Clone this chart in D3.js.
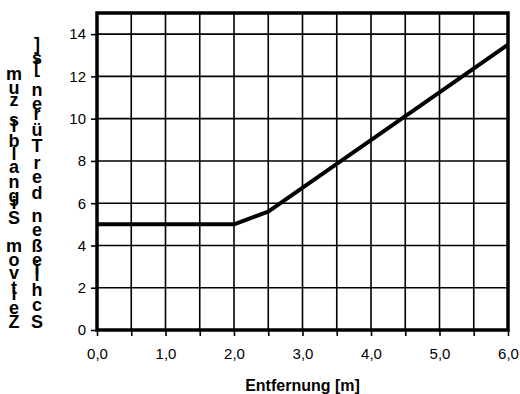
<!DOCTYPE html>
<html>
<head>
<meta charset="utf-8">
<script src="https://cdn.jsdelivr.net/npm/d3@7"></script>
<style>
  body { margin: 0; background: #fff; }
  svg { display: block; font-family: Arial, "Liberation Sans", sans-serif; }
</style>
</head>
<body>
<svg id="chart" width="520" height="394"></svg>
<script>
// data
var distance = [0.0, 2.0, 2.5, 6.0];
var time = [5.0, 5.0, 5.6, 13.5];
var xTicks = [0, 1, 2, 3, 4, 5, 6];
var yTicks = [0, 2, 4, 6, 8, 10, 12, 14];
var xGrid = d3.range(0.5, 6, 0.5);
var yGrid = [2, 4, 6, 8, 10, 12, 14];
var xTitle = "Entfernung [m]";
var yTitleLines = ["Zeit vom Signal bis zum", "Schließen der Türen [s]"];

var svg = d3.select("#chart");
var pLeft = 97, pRight = 508, pTop = 13, pBottom = 330;

var x = d3.scaleLinear().domain([0, 6]).range([pLeft, pRight]);
var y = d3.scaleLinear().domain([0, 15]).range([pBottom, pTop]);

// grid
svg.append("g").selectAll("line").data(xGrid).enter().append("line")
  .attr("x1", function(d) { return x(d); }).attr("x2", function(d) { return x(d); })
  .attr("y1", pTop).attr("y2", pBottom)
  .attr("stroke", "#000").attr("stroke-width", 1.6);
svg.append("g").selectAll("line").data(yGrid).enter().append("line")
  .attr("y1", function(d) { return y(d); }).attr("y2", function(d) { return y(d); })
  .attr("x1", pLeft).attr("x2", pRight)
  .attr("stroke", "#000").attr("stroke-width", 1.6);

// axes
var xAxis = d3.axisBottom(x).tickValues(d3.range(0, 6.01, 0.5)).tickSize(6)
  .tickFormat(function(d) { return xTicks.indexOf(d) >= 0 ? d3.format(".1f")(d).replace(".", ",") : ""; });
var gx = svg.append("g").attr("transform", "translate(0," + pBottom + ")").call(xAxis);
gx.select(".domain").remove();
gx.selectAll("line").attr("stroke", "#000").attr("stroke-width", 1.6);
gx.selectAll("text").attr("font-size", 15).attr("fill", "#000").attr("dy", "1.3em");

var yAxis = d3.axisLeft(y).tickValues(yTicks).tickSize(6).tickPadding(5);
var gy = svg.append("g").attr("transform", "translate(" + pLeft + ",0)").call(yAxis);
gy.select(".domain").remove();
gy.selectAll("line").attr("stroke", "#000").attr("stroke-width", 1.6);
gy.selectAll("text").attr("font-size", 15).attr("fill", "#000");

// frame
svg.append("rect").attr("x", pLeft).attr("y", pTop)
  .attr("width", pRight - pLeft).attr("height", pBottom - pTop)
  .attr("fill", "none").attr("stroke", "#000").attr("stroke-width", 3.5);

// series
var line = d3.line().x(function(d, i) { return x(distance[i]); }).y(function(d) { return y(d); });
svg.append("path").datum(time).attr("d", line)
  .attr("fill", "none").attr("stroke", "#000").attr("stroke-width", 4)
  .attr("stroke-linejoin", "round");

// x title
svg.append("text").attr("x", (pLeft + pRight) / 2).attr("y", 391)
  .attr("text-anchor", "middle").attr("font-size", 16).attr("font-weight", "bold")
  .text(xTitle);

// y title: upright glyphs stacked bottom to top
var ctx = document.createElement("canvas").getContext("2d");
ctx.font = "bold 18px Arial, 'Liberation Sans'";
var cols = [{ cx: 14, y0: 328, y1: 80 }, { cx: 37, y0: 328, y1: 50 }];
yTitleLines.forEach(function(str, k) {
  var chars = str.split("");
  var adv = [0];
  chars.forEach(function(c, i) { if (i > 0) adv.push(adv[i - 1] + ctx.measureText(chars[i - 1]).width); });
  var sc = d3.scaleLinear().domain([0, adv[adv.length - 1]]).range([cols[k].y0, cols[k].y1]);
  svg.append("g").selectAll("text").data(chars).enter().append("text")
    .attr("x", cols[k].cx).attr("y", function(d, i) { return sc(adv[i]); })
    .attr("text-anchor", "middle").attr("font-size", 18).attr("font-weight", "bold")
    .text(function(d) { return d; });
});
</script>
</body>
</html>
